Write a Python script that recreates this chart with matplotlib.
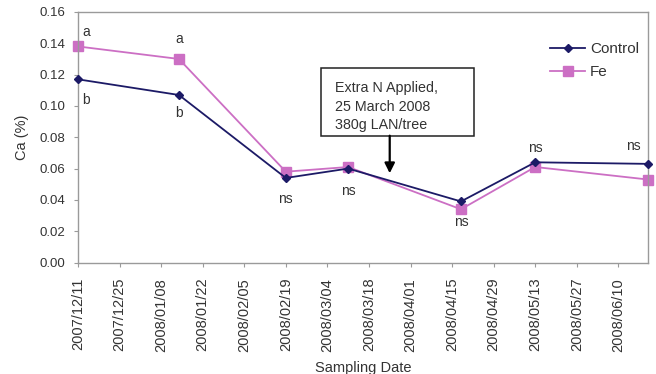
import matplotlib
matplotlib.use("Agg")
import matplotlib.pyplot as plt
import matplotlib.dates as mdates
from matplotlib.patches import Rectangle
import numpy as np
import pandas as pd

plt.rcParams['font.family'] = ['Liberation Sans', 'DejaVu Sans']

# Leaf Ca content per sampling date
sampling_dates = pd.to_datetime(['2007-12-11', '2008-01-14', '2008-02-19', '2008-03-11',
                                 '2008-04-18', '2008-05-13', '2008-06-20'])
control = [0.117, 0.107, 0.054, 0.060, 0.039, 0.064, 0.063]
fe = [0.138, 0.130, 0.058, 0.061, 0.034, 0.061, 0.053]

# Significance letters: (point index, series, text, pixel offset)
sig_labels = [
    (0, 'fe', 'a', (8, 14)),
    (0, 'control', 'b', (8, -21)),
    (1, 'fe', 'a', (0, 20)),
    (1, 'control', 'b', (0, -18)),
    (2, 'control', 'ns', (0, -21)),
    (3, 'control', 'ns', (0, -22)),
    (4, 'fe', 'ns', (0, -13)),
    (5, 'control', 'ns', (0, 14)),
    (6, 'control', 'ns', (-15, 18)),
]

tick_dates = pd.date_range('2007-12-11', '2008-06-10', freq='14D')
y_ticks = np.arange(0, 0.161, 0.02)

application_date = pd.Timestamp('2008-03-25')
note_text = "Extra N Applied,\n25 March 2008\n380g LAN/tree"

navy = '#1c1a66'
pink = '#cc6fc4'
spine_grey = '#9a9a9a'
text_grey = '#333333'

fig = plt.figure(figsize=(6.56, 3.74), dpi=100)
ax = fig.add_axes([78 / 656, 1 - 262.5 / 374, 570 / 656, 250.5 / 374])

ax.plot(sampling_dates, control, color=navy, lw=1.3, marker='D', ms=4.5,
        mec=navy, mfc=navy, label='Control', zorder=3, clip_on=False)
ax.plot(sampling_dates, fe, color=pink, lw=1.3, marker='s', ms=6.5,
        mec=pink, mfc=pink, label='Fe', zorder=2, clip_on=False)

series = {'control': control, 'fe': fe}
for idx, key, txt, (dx, dy) in sig_labels:
    ax.annotate(txt, xy=(sampling_dates[idx], series[key][idx]), xytext=(dx, dy),
                textcoords='offset pixels', ha='center', va='center',
                fontsize=10, color=text_grey)

# Fertiliser application note with arrow
box_left = mdates.date2num(pd.Timestamp('2008-03-02'))
box_right = mdates.date2num(pd.Timestamp('2008-04-22 12:00'))
box_bottom, box_top = 0.081, 0.1245
ax.add_patch(Rectangle((box_left, box_bottom), box_right - box_left, box_top - box_bottom,
                       fc='white', ec='#222222', lw=1.1, zorder=4))
ax.text(pd.Timestamp('2008-03-06 12:00'), 0.0995, note_text, ha='left', va='center',
        fontsize=10.3, color=text_grey, linespacing=1.4, zorder=5)
ax.annotate('', xy=(application_date, 0.057), xytext=(application_date, box_bottom),
            arrowprops=dict(arrowstyle='-|>,head_length=0.6,head_width=0.3',
                            color='black', lw=1.6, shrinkA=0, shrinkB=0), zorder=4)

ax.set_xlim(sampling_dates[0], sampling_dates[-1])
ax.set_ylim(0, 0.16)
ax.set_xticks(tick_dates)
ax.xaxis.set_major_formatter(mdates.DateFormatter('%Y/%m/%d'))
ax.set_yticks(y_ticks)
ax.set_yticklabels([f'{v:.2f}' for v in y_ticks])
ax.tick_params(axis='x', labelrotation=90, labelsize=10.5, colors=spine_grey,
               labelcolor=text_grey, length=3, pad=8)
ax.tick_params(axis='y', labelsize=9.5, colors=spine_grey, labelcolor=text_grey,
               length=3, pad=6)
for s in ax.spines.values():
    s.set_color(spine_grey)
    s.set_linewidth(1.0)

ax.set_xlabel('Sampling Date', fontsize=10.5, color=text_grey, labelpad=7)
ax.set_ylabel('Ca (%)', fontsize=10.5, color=text_grey, labelpad=8)

leg = ax.legend(loc='upper right', bbox_to_anchor=(1.0, 0.915), frameon=False,
                fontsize=11, handlelength=2.3, handletextpad=0.3, labelspacing=0.55,
                borderaxespad=0.2)
for t in leg.get_texts():
    t.set_color(text_grey)

fig.savefig('out.png', dpi=100)
